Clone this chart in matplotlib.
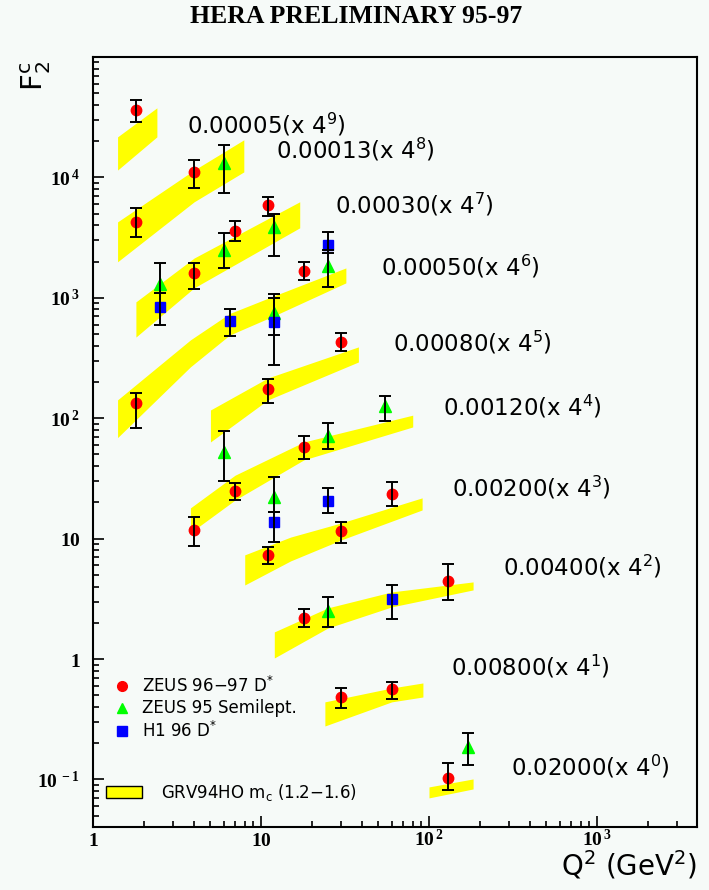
import matplotlib.pyplot as plt
from matplotlib.ticker import LogLocator, NullFormatter
from matplotlib.patches import Rectangle

plt.rcParams['mathtext.fontset'] = 'custom'
plt.rcParams['mathtext.rm'] = 'DejaVu Sans'
plt.rcParams['mathtext.it'] = 'DejaVu Sans:italic'
plt.rcParams['mathtext.bf'] = 'Liberation Serif:bold'

# x bins of each band, top (x 4^9) to bottom (x 4^0)
x_bins = ['0.00005', '0.00013', '0.00030', '0.00050', '0.00080',
          '0.00120', '0.00200', '0.00400', '0.00800', '0.02000']
powers = [9, 8, 7, 6, 5, 4, 3, 2, 1, 0]

# GRV94HO bands (lower / upper edge)
band_q2 = [[1.4, 2.4],
           [1.4, 4.0, 7.9],
           [1.8, 4.0, 17],
           [1.4, 3.8, 6.5, 12, 32],
           [5.0, 11, 38],
           [3.8, 7, 18, 80],
           [8, 15, 30, 91],
           [12, 25, 60, 183],
           [24, 60, 92],
           [100, 183]]
band_lo = [[11500, 21700],
           [1990, 6270, 11100],
           [472, 1210, 3810],
           [69, 267, 490, 710, 1330],
           [63.5, 142, 293],
           [11.2, 20.9, 45.1, 84.6],
           [4.12, 6.53, 9.75, 17.3],
           [1.02, 1.81, 2.71, 3.75],
           [0.278, 0.441, 0.484],
           [0.0703, 0.0834]]
band_hi = [[21700, 37800],
           [4270, 11500, 20500],
           [925, 2140, 6270],
           [142, 447, 740, 1040, 1770],
           [117, 216, 391],
           [18.0, 33.6, 63.5, 106],
           [7.33, 10.3, 13.5, 21.8],
           [1.68, 2.66, 3.61, 4.37],
           [0.441, 0.575, 0.633],
           [0.0867, 0.101]]

# ZEUS 96-97 D*
zeus_q2 = [1.8, 1.8, 4, 4, 7, 11, 1.8, 18, 11, 30, 4, 7, 18,
           11, 30, 60, 18, 130, 30, 60, 130]
zeus_f2 = [36000, 4250, 11100, 1610, 3600, 5900, 134, 1670, 175, 430,
           11.8, 24.9, 57.4, 7.3, 11.6, 23.5, 2.19, 4.46, 0.484, 0.563, 0.103]
zeus_lo = [29000, 3200, 8200, 1180, 2960, 4800, 83, 1400, 135, 363,
           8.7, 21, 46, 6.1, 9.2, 18.7, 1.86, 3.1, 0.39, 0.467, 0.082]
zeus_hi = [44000, 5600, 14000, 1950, 4370, 6900, 162, 2000, 213, 513,
           15, 29, 71, 8.6, 13.7, 29.5, 2.6, 6.2, 0.575, 0.645, 0.137]

# ZEUS 95 semileptonic
semi_q2 = [2.5, 6, 6, 12, 12, 25, 6, 25, 55, 12, 25, 170]
semi_f2 = [1300, 13200, 2500, 3880, 750, 1840, 52.5, 71, 126, 22, 2.51, 0.186]
semi_lo = [1100, 7430, 1780, 2230, 490, 1230, 30.1, 55, 95, 16.7, 1.86, 0.132]
semi_hi = [1950, 18600, 3460, 4980, 1075, 2510, 79, 91, 153, 32.5, 3.3, 0.243]

# H1 96 D*
h1_q2 = [2.5, 6.5, 12, 25, 12, 25, 60]
h1_f2 = [840, 643, 631, 2750, 13.7, 20.6, 3.15]
h1_lo = [596, 483, 277, 2360, 9.4, 16.2, 2.15]
h1_hi = [1100, 809, 1000, 3520, 16.7, 26.3, 4.1]

# label positions (axes fraction)
label_pos = [(0.156, 0.912), (0.303, 0.879), (0.401, 0.808), (0.477, 0.727),
             (0.497, 0.629), (0.580, 0.546), (0.594, 0.440), (0.679, 0.338),
             (0.593, 0.208), (0.692, 0.078)]

bg = '#f6faf8'
fig = plt.figure(figsize=(7.09, 8.90), dpi=100, facecolor=bg)
ax = fig.add_axes([0.1312, 0.0708, 0.8518, 0.8652], facecolor=bg)
ax.set_xscale('log')
ax.set_yscale('log')

for q, lo, hi in zip(band_q2, band_lo, band_hi):
    ax.fill_between(q, lo, hi, color='#ffff00', lw=0, zorder=1)


def draw(q2, f2, lo, hi, marker, color, ms):
    yerr = [[f - l for f, l in zip(f2, lo)], [h - f for f, h in zip(f2, hi)]]
    ax.plot(q2, f2, ls='none', marker=marker, color=color, mec=color, ms=ms, zorder=3)
    ax.errorbar(q2, f2, yerr=yerr, fmt='none', ecolor='black', elinewidth=1.4,
                capsize=4.5, capthick=1.4, zorder=4)


draw(zeus_q2, zeus_f2, zeus_lo, zeus_hi, 'o', '#ff0000', 7.5)
draw(semi_q2, semi_f2, semi_lo, semi_hi, '^', '#00ff00', 8)
draw(h1_q2, h1_f2, h1_lo, h1_hi, 's', '#0000ff', 7.5)

for (px, py), xb, p in zip(label_pos, x_bins, powers):
    ax.text(px, py, xb + '(x 4$^{%d}$)' % p, transform=ax.transAxes,
            fontsize=16.5, ha='left', va='center')

# legend
leg_items = [('o', '#ff0000', 7, 'ZEUS 96$-$97 D$^{*}$'),
             ('^', '#00ff00', 7, 'ZEUS 95 Semilept.'),
             ('s', '#0000ff', 6.5, 'H1 96 D$^{*}$')]
for i, (m, c, s, t) in enumerate(leg_items):
    yy = 0.183 - i * 0.029
    ax.plot([0.048], [yy], marker=m, color=c, mec=c, ms=s, transform=ax.transAxes)
    ax.text(0.081, yy, t, transform=ax.transAxes, fontsize=12, va='center')
ax.add_patch(Rectangle((0.0215, 0.0377), 0.06, 0.0155, transform=ax.transAxes,
                       facecolor='#ffff00', edgecolor='black', lw=1))
ax.text(0.1126, 0.045, r'GRV94HO m$_\mathrm{c}$ (1.2$-$1.6)', transform=ax.transAxes,
        fontsize=12, va='center')

ax.set_xlim(1, 3936)
ax.set_ylim(0.0403, 1.0e5)

ax.set_xticks([1, 10, 100, 1000])
ax.set_xticklabels([r'$\mathbf{1}$', r'$\mathbf{10}$', r'$\mathbf{10^{\,2}}$',
                    r'$\mathbf{10^{\,3}}$'], fontsize=14, va='baseline')
ax.set_yticks([0.1, 1, 10, 100, 1000, 10000])
ax.set_yticklabels([r'$\mathbf{10^{\,-1}}$', r'$\mathbf{1}$', r'$\mathbf{10}$',
                    r'$\mathbf{10^{\,2}}$', r'$\mathbf{10^{\,3}}$', r'$\mathbf{10^{\,4}}$'],
                   fontsize=14)
for a in (ax.xaxis, ax.yaxis):
    a.set_minor_locator(LogLocator(base=10, subs=range(2, 10), numticks=20))
    a.set_minor_formatter(NullFormatter())
ax.tick_params(which='both', direction='in', top=False, right=False, width=1.2)
ax.tick_params(which='major', length=8)
ax.tick_params(which='minor', length=4.5)
ax.tick_params(axis='x', pad=14)
ax.tick_params(axis='y', pad=9)
for s in ax.spines.values():
    s.set_linewidth(1.5)

fig.text(0.502, 0.981, 'HERA PRELIMINARY 95-97', ha='center', va='center',
         family='Liberation Serif', weight='bold', fontsize=18.5)
fig.text(0.983, 0.028, r'Q$^2$ (GeV$^2$)', ha='right', va='center', fontsize=20)
fig.text(0.05, 0.915, r'F$_2^\mathrm{c}$', rotation=90, ha='center', va='center',
         fontsize=21)

plt.savefig('out.png', dpi=100, facecolor=bg)
